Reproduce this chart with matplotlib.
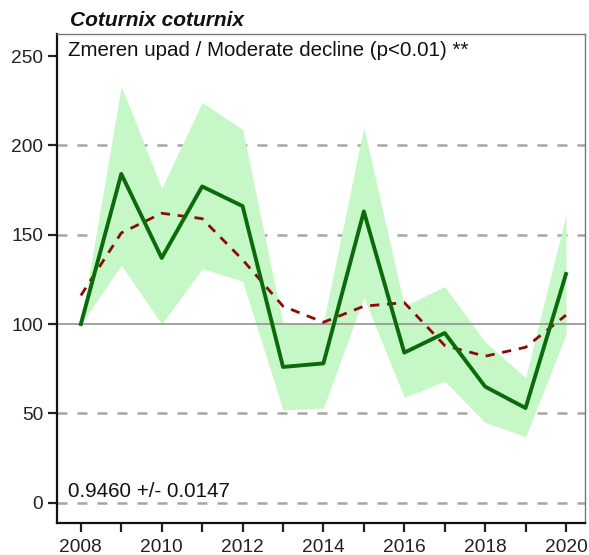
import matplotlib
matplotlib.use("Agg")
import matplotlib.pyplot as plt

plt.rcParams['font.family'] = ['Liberation Sans', 'DejaVu Sans']

years = [2008, 2009, 2010, 2011, 2012, 2013, 2014, 2015, 2016, 2017, 2018, 2019, 2020]
index = [100, 184, 137, 177, 166, 76, 78, 163, 84, 95, 65, 53, 128]
upper = [100, 233, 176, 224, 209, 100, 101, 210, 110, 121, 90, 70, 161]
lower = [100, 133, 100, 131, 124, 52, 53, 115, 59, 68, 45, 37, 94]
trend = [116, 151, 162, 159, 136, 110, 101, 110, 112, 88, 82, 87, 105]

species = "Coturnix coturnix"
trend_label = "Zmeren upad / Moderate decline (p<0.01) **"
slope_label = "0.9460 +/- 0.0147"
grid_levels = [0, 50, 150, 200]
y_ticks = [0, 50, 100, 150, 200, 250]
x_labels = [2008, 2010, 2012, 2014, 2016, 2018, 2020]

fig = plt.figure(figsize=(5.89, 5.55), dpi=100)
ax = fig.add_axes([0.0968, 0.0571, 0.8964, 0.8816])

for lvl in grid_levels:
    ax.axhline(lvl, color='#a6a6a6', lw=1.8, ls=(0, (4, 4)), zorder=1)
ax.axhline(100, color='#9a9a9a', lw=1.3, zorder=2)

ax.fill_between(years, lower, upper, color='#c6f7c6', lw=0, zorder=1.5)
ax.plot(years, trend, color='#8b0a0a', lw=2.0, ls=(0, (3.3, 2.8)), zorder=3)
ax.plot(years, index, color='#0b6b0b', lw=2.8, zorder=4)

ax.set_xlim(2007.41, 2020.47)
ax.set_ylim(-11.5, 262.3)
ax.set_yticks(y_ticks)
ax.set_xticks(years)
ax.set_xticklabels([str(y) if y in x_labels else '' for y in years])
ax.tick_params(axis='both', direction='out', length=6.5, width=1.6,
               labelsize=13.8, colors='#222222', pad=3.5)
ax.tick_params(axis='x', pad=5)

for side in ('left', 'bottom'):
    ax.spines[side].set_linewidth(1.6)
    ax.spines[side].set_color('#111111')
for side in ('top', 'right'):
    ax.spines[side].set_linewidth(1.0)
    ax.spines[side].set_color('#777777')

ax.text(0.021, 0.985, trend_label, transform=ax.transAxes, fontsize=14.8,
        ha='left', va='top', color='#111111')
ax.text(0.021, 0.064, slope_label, transform=ax.transAxes, fontsize=14.8,
        ha='left', va='center', color='#111111')
fig.text(70 / 589, 1 - 20 / 555, species, fontsize=15, fontweight='bold',
         fontstyle='italic', ha='left', va='center', color='#111111')

fig.savefig('out.png', dpi=100)
